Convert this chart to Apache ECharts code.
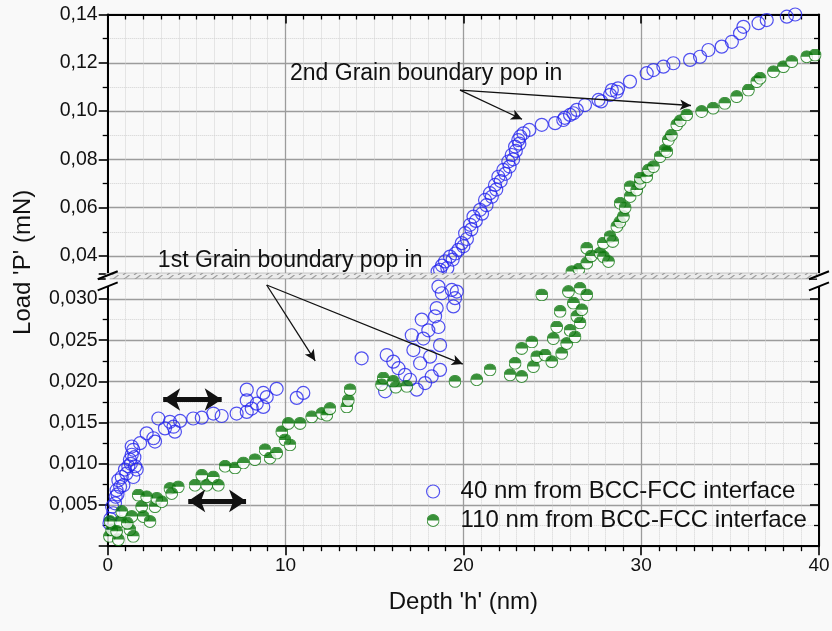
<!DOCTYPE html>
<html><head><meta charset="utf-8">
<script src="https://cdn.jsdelivr.net/npm/echarts@6/dist/echarts.min.js"></script>
<style>html,body{margin:0;padding:0;background:#f9f9f9}#c{width:832px;height:631px}</style>
</head><body><div id="c"></div>
<script>
// ---------- data ----------
const seriesNames = ['40 nm from BCC-FCC interface', '110 nm from BCC-FCC interface'];
const axisTitles = { x: "Depth 'h' (nm)", y: "Load 'P' (mN)" };

// [depth nm, load mN]
const blue40 = [
[0.10,0.0028],[0.15,0.0033],[0.31,0.0040],[0.25,0.0048],[0.41,0.0052],[0.45,0.0060],[0.50,0.0068],[0.55,0.0063],[0.60,0.0080],[0.70,0.0072],
[0.79,0.0084],[0.88,0.0074],[0.97,0.0093],[1.05,0.0088],[1.16,0.0097],[1.25,0.0105],[1.35,0.0111],[1.30,0.0100],[1.44,0.0117],[1.54,0.0097],
[1.63,0.0093],[1.44,0.0084],[1.35,0.0121],[1.50,0.0108],[1.82,0.0125],[2.19,0.0137],[2.57,0.0131],[2.66,0.0127],[2.85,0.0155],[3.22,0.0143],
[3.50,0.0151],[3.78,0.0139],[3.70,0.0145],[4.07,0.0152],[4.81,0.0155],[5.29,0.0156],[5.94,0.0161],[6.41,0.0158],[7.25,0.0161],[7.82,0.0163],
[7.82,0.0190],[7.82,0.0177],[8.10,0.0167],[8.38,0.0173],[8.75,0.0186],[8.75,0.0169],[8.94,0.0181],[9.50,0.0191],[10.63,0.0180],[11.00,0.0186],
[14.28,0.0228],[15.60,0.0188],[15.69,0.0232],[16.06,0.0224],[16.35,0.0216],[16.72,0.0208],[17.00,0.0202],[17.38,0.0190],[17.19,0.0238],[17.10,0.0256],
[17.57,0.0222],[17.85,0.0198],[17.66,0.0275],[17.75,0.0252],[18.03,0.0262],[18.13,0.0230],[18.22,0.0206],[18.41,0.0279],[18.50,0.0289],[18.60,0.0266],
[18.69,0.0244],[18.69,0.0214],[18.60,0.0315],[18.79,0.0307],[19.35,0.0311],[19.53,0.0301],[19.63,0.0309],[19.44,0.0291],
[18.55,0.0335],[18.69,0.0342],[18.97,0.0377],[18.80,0.0360],[19.10,0.0350],[19.25,0.0397],[19.40,0.0385],[19.72,0.0425],[19.55,0.0410],[19.91,0.0453],
[20.00,0.0440],[20.10,0.0494],[20.20,0.0470],[20.38,0.0529],[20.45,0.0510],[20.57,0.0563],[20.70,0.0545],[20.94,0.0591],[21.05,0.0575],[21.22,0.0632],
[21.30,0.0610],[21.50,0.0660],[21.60,0.0645],[21.78,0.0694],[21.85,0.0675],[21.97,0.0728],[22.10,0.0710],[22.25,0.0756],[22.35,0.0740],[22.53,0.0791],
[22.60,0.0770],[22.72,0.0818],[22.80,0.0800],[22.91,0.0853],[22.95,0.0835],[23.09,0.0880],[23.15,0.0865],[23.38,0.0908],[23.20,0.0895],[23.71,0.0922],
[24.41,0.0943],[25.16,0.0950],[25.62,0.0963],[25.70,0.0972],[26.00,0.0984],[26.19,0.0991],[26.38,0.1005],[26.84,0.1025],[27.60,0.1046],[27.75,0.1040],
[28.25,0.1067],[28.35,0.1087],[28.63,0.1080],[28.70,0.1094],[29.37,0.1122],[30.31,0.1157],[30.69,0.1170],[31.25,0.1184],[31.81,0.1198],[32.75,0.1212],
[33.31,0.1225],[33.78,0.1253],[34.53,0.1267],[35.10,0.1287],[35.56,0.1322],[35.75,0.1349],[36.60,0.1364],[37.06,0.1377],[38.19,0.1391],[38.66,0.1400]
];
const green110 = [
[0.10,0.0012],[0.22,0.0020],[0.13,0.0030],[0.60,0.0008],[0.69,0.0030],[0.79,0.0042],[0.50,0.0018],[1.25,0.0020],[1.44,0.0012],[1.35,0.0036],
[1.10,0.0028],[1.72,0.0062],[1.91,0.0048],[2.00,0.0036],[2.19,0.0060],[2.38,0.0030],[2.66,0.0048],[2.76,0.0058],[3.04,0.0054],[3.50,0.0070],
[3.97,0.0072],[3.60,0.0064],[4.91,0.0074],[5.29,0.0086],[5.57,0.0074],[5.94,0.0084],[6.22,0.0074],[6.60,0.0097],[7.16,0.0095],[7.63,0.0101],
[8.28,0.0105],[8.85,0.0117],[9.13,0.0107],[9.50,0.0113],[9.79,0.0139],[9.97,0.0129],[10.25,0.0123],[10.16,0.0149],[10.82,0.0149],[11.47,0.0157],
[12.04,0.0161],[12.32,0.0159],[12.50,0.0167],[13.44,0.0169],[13.53,0.0177],[13.63,0.0190],[15.50,0.0204],[15.40,0.0196],[16.06,0.0200],[16.20,0.0193],
[16.82,0.0194],[19.53,0.0200],[20.75,0.0202],[21.50,0.0214],[22.63,0.0208],[23.28,0.0206],[22.91,0.0222],[23.28,0.0240],[23.85,0.0248],[23.94,0.0218],
[24.13,0.0230],[24.60,0.0232],[24.97,0.0224],[25.06,0.0252],[25.25,0.0266],[25.44,0.0285],[25.53,0.0234],[25.81,0.0246],[26.00,0.0262],[25.91,0.0309],
[26.19,0.0295],[26.38,0.0279],[26.28,0.0254],[26.56,0.0313],[26.94,0.0305],[26.66,0.0287],[26.56,0.0271],[24.41,0.0305],
[26.10,0.0335],[26.50,0.0345],[26.94,0.0370],[26.94,0.0432],[27.20,0.0400],[27.69,0.0411],[27.88,0.0397],[28.16,0.0377],[27.88,0.0453],[28.25,0.0480],
[28.40,0.0460],[28.63,0.0522],[28.82,0.0618],[28.80,0.0540],[29.00,0.0563],[29.10,0.0600],[29.38,0.0646],[29.38,0.0687],[29.75,0.0673],[29.94,0.0701],
[29.94,0.0722],[30.31,0.0728],[30.41,0.0756],[30.69,0.0770],[31.06,0.0811],[31.34,0.0839],[31.44,0.0832],[31.53,0.0880],[31.70,0.0900],[32.00,0.0943],
[32.20,0.0960],[32.56,0.0984],[33.40,0.0998],[34.05,0.1012],[34.70,0.1032],[35.37,0.1060],[36.03,0.1087],[36.50,0.1122],[36.69,0.1136],[37.44,0.1163],
[38.00,0.1184],[38.47,0.1205],[39.31,0.1225],[39.78,0.1232]
];

// axis ranges (broken y axis: lower panel 0..0.0325, upper panel 0.0328..0.14)
const xRange = [0, 40, 10];
const upperRange = [0.0328, 0.14, 0.02];
const lowerRange = [0, 0.0325, 0.005];
const splitValue = 0.0327;

// annotations (data coordinates)
const notes = [
  { text: '2nd Grain boundary pop in', at: [10.25, 0.1157] },
  { text: '1st Grain boundary pop in', at: [2.82, 0.0379] }
];
const arrows2nd = [[[19.81, 0.1087], [23.3, 0.0966]], [[19.81, 0.1087], [32.8, 0.1023]]];
const arrows1st = [[[8.94, 0.0317], [11.67, 0.0225]], [[8.94, 0.0317], [19.97, 0.0221]]];
const doubleArrows = [[[3.12, 0.0178], [6.41, 0.0178]], [[4.53, 0.0055], [7.78, 0.0055]]];

// ---------- chart ----------
const FONT = '"Liberation Sans", Arial, Helvetica, sans-serif';
const BLUE = '#2626ee';
const greenSvg = "<svg xmlns='http://www.w3.org/2000/svg' width='40' height='40' viewBox='0 0 40 40'>" +
  "<circle cx='20' cy='20' r='18.3' fill='#ffffff'/>" +
  "<path d='M1.7 20 A18.3 18.3 0 0 1 38.3 20 Z' fill='#087608'/>" +
  "<circle cx='20' cy='20' r='18.3' fill='none' stroke='#167c16' stroke-width='3.2'/></svg>";
const greenSymbol = 'image://data:image/svg+xml;charset=utf-8,' + encodeURIComponent(greenSvg);

const upperBlue = blue40.filter(p => p[1] >= splitValue);
const lowerBlue = blue40.filter(p => p[1] < splitValue);
const upperGreen = green110.filter(p => p[1] >= splitValue);
const lowerGreen = green110.filter(p => p[1] < splitValue);

function isMult(v, step) { const k = v / step; return Math.abs(k - Math.round(k)) < 1e-6; }

function xAxisDef(grid, pos, withLabels) {
  return {
    type: 'value', gridIndex: grid, position: pos, min: xRange[0], max: xRange[1], interval: xRange[2],
    axisLine: { show: true, onZero: false, lineStyle: { color: '#000', width: 2 } },
    axisTick: { show: true, inside: pos === 'top', length: 9, lineStyle: { color: '#000', width: 1.6 } },
    minorTick: { show: true, splitNumber: 10, length: 5, lineStyle: { color: '#000', width: 1.3 } },
    axisLabel: { show: withLabels, margin: 10, fontSize: 19, color: '#111', fontFamily: FONT },
    splitLine: { show: true, lineStyle: { color: '#9c9c9c', width: 1.3 } },
    minorSplitLine: { show: true, lineStyle: { color: '#d2d2d2', type: 'dotted', width: 1 } }
  };
}
function yAxisDef(grid, pos, range, digits, isLower) {
  const left = pos === 'left';
  const ax = {
    type: 'value', gridIndex: grid, position: pos, min: range[0], max: range[1],
    axisLine: { show: true, onZero: false, lineStyle: { color: '#000', width: 2 } },
    axisTick: { show: true, inside: !left, length: 9, lineStyle: { color: '#000', width: 1.6 } },
    minorTick: { show: true, splitNumber: 2, length: 5, lineStyle: { color: '#000', width: 1.3 } },
    axisLabel: {
      show: left, margin: 10, fontSize: 19.5, color: '#111', fontFamily: FONT,
      showMinLabel: false, showMaxLabel: !isLower,
      formatter: v => (v > 1e-9 && isMult(v, range[2])) ? v.toFixed(digits).replace('.', ',') : ''
    },
    splitLine: { show: left, lineStyle: { color: '#9c9c9c', width: 1.3 } },
    minorSplitLine: { show: left, lineStyle: { color: '#d2d2d2', type: 'dotted', width: 1 } }
  };
  if (isLower) { ax.interval = range[2]; }
  else { ax.minInterval = range[2]; ax.maxInterval = range[2]; ax.splitNumber = 5; }
  return ax;
}

const arrowLine = (pairs) => pairs.map(p => [{ coord: p[0] }, { coord: p[1] }]);
const thinArrow = (pairs) => ({
  silent: true, symbol: ['none', 'arrow'], symbolSize: [8, 11], animation: false,
  lineStyle: { color: '#111', width: 1.3, type: 'solid' }, itemStyle: { color: '#111' },
  label: { show: false }, data: arrowLine(pairs)
});

const option = {
  backgroundColor: '#f9f9f9',
  animation: false,
  grid: [
    { left: 107.7, right: 13, top: 14.5, height: 258.8, outerBoundsMode: 'none', containLabel: false },
    { left: 107.7, right: 13, top: 278.4, height: 267.8, outerBoundsMode: 'none', containLabel: false }
  ],
  xAxis: [
    xAxisDef(0, 'top', false),
    Object.assign(xAxisDef(1, 'bottom', true), {
      name: axisTitles.x, nameLocation: 'middle', nameGap: 44,
      nameTextStyle: { fontSize: 24, color: '#111', fontFamily: FONT }
    })
  ],
  yAxis: [
    yAxisDef(0, 'left', upperRange, 2, false),
    yAxisDef(0, 'right', upperRange, 2, false),
    yAxisDef(1, 'left', lowerRange, 3, true),
    yAxisDef(1, 'right', lowerRange, 3, true)
  ],
  legend: {
    orient: 'vertical', left: 421, top: 474, itemWidth: 13, itemHeight: 13, itemGap: 4,
    selectedMode: false,
    textStyle: { fontSize: 24, color: '#111', fontFamily: FONT, lineHeight: 25, padding: [0, 0, 0, 16] },
    data: [
      { name: seriesNames[0], icon: 'circle', itemStyle: { color: 'rgba(255,255,255,0)', borderColor: BLUE, borderWidth: 1.2 } },
      { name: seriesNames[1], icon: greenSymbol }
    ]
  },
  series: [
    {
      type: 'scatter', name: seriesNames[0], xAxisIndex: 0, yAxisIndex: 0, data: upperBlue,
      symbol: 'circle', symbolSize: 13,
      itemStyle: { color: 'rgba(255,255,255,0)', borderColor: BLUE, borderWidth: 1.2 }
    },
    {
      type: 'scatter', name: seriesNames[0], xAxisIndex: 1, yAxisIndex: 2, data: lowerBlue,
      symbol: 'circle', symbolSize: 13,
      itemStyle: { color: 'rgba(255,255,255,0)', borderColor: BLUE, borderWidth: 1.2 }
    },
    {
      type: 'scatter', name: seriesNames[1], xAxisIndex: 0, yAxisIndex: 0, data: upperGreen,
      symbol: greenSymbol, symbolSize: 13
    },
    {
      type: 'scatter', name: seriesNames[1], xAxisIndex: 1, yAxisIndex: 2, data: lowerGreen,
      symbol: greenSymbol, symbolSize: 13
    },
    {
      type: 'scatter', name: 'arrowsUpper', xAxisIndex: 0, yAxisIndex: 0, data: [], z: 5,
      markLine: thinArrow(arrows2nd)
    },
    {
      type: 'scatter', name: 'arrowsLower', xAxisIndex: 1, yAxisIndex: 2, data: [], z: 5,
      markLine: thinArrow(arrows1st)
    },
    {
      type: 'scatter', name: 'arrowsDouble', xAxisIndex: 1, yAxisIndex: 2, data: [], z: 5,
      markLine: {
        silent: true, symbol: ['arrow', 'arrow'], symbolSize: [17, 17], animation: false,
        lineStyle: { color: '#111', width: 5, type: 'solid' }, itemStyle: { color: '#111' },
        label: { show: false }, data: arrowLine(doubleArrows)
      }
    }
  ]
};

const chart = echarts.init(document.getElementById('c'), null, { renderer: 'canvas' });
chart.setOption(option);

// decorations derived from axes
const xL = chart.convertToPixel({ xAxisIndex: 0 }, xRange[0]);
const xR = chart.convertToPixel({ xAxisIndex: 0 }, xRange[1]);
const yUpBottom = chart.convertToPixel({ yAxisIndex: 0 }, upperRange[0]);
const yLowTop = chart.convertToPixel({ yAxisIndex: 2 }, lowerRange[1]);
const yTop = chart.convertToPixel({ yAxisIndex: 0 }, upperRange[1]);
const yBot = chart.convertToPixel({ yAxisIndex: 2 }, lowerRange[0]);

const pc = document.createElement('canvas');
pc.width = 11; pc.height = Math.max(2, Math.round(yLowTop - yUpBottom));
const g = pc.getContext('2d');
g.fillStyle = '#ebebeb'; g.fillRect(0, 0, pc.width, pc.height);
g.strokeStyle = '#9e9e9e'; g.lineWidth = 1.2;
g.beginPath(); g.moveTo(2, pc.height); g.lineTo(2 + pc.height * 1.3, 0); g.stroke();

const graphics = [
  { type: 'rect', id: 'band', z: 100, silent: true,
    shape: { x: xL, y: yUpBottom, width: xR - xL, height: yLowTop - yUpBottom },
    style: { fill: { image: pc, repeat: 'repeat' } } }
];
[xL, xR].forEach((xx, i) => {
  graphics.push({ type: 'rect', id: 'gap' + i, z: 101, silent: true,
    shape: { x: xx - 2, y: yUpBottom, width: 4, height: yLowTop - yUpBottom + 8 },
    style: { fill: '#f9f9f9' } });
  [yUpBottom + 2, yLowTop + 8].forEach((yy, j) => {
    graphics.push({ type: 'line', id: 'brk' + i + j, z: 102, silent: true,
      shape: { x1: xx - 10, y1: yy + 4, x2: xx + 10, y2: yy - 4 },
      style: { stroke: '#000', lineWidth: 2 } });
  });
});
notes.forEach((n, i) => {
  const p = chart.convertToPixel({ xAxisIndex: 0, yAxisIndex: 0 }, n.at);
  graphics.push({ type: 'text', id: 'note' + i, z: 110, silent: true, x: p[0], y: p[1],
    style: { text: n.text, fontSize: 23, fontFamily: FONT, fill: '#111', align: 'left', verticalAlign: 'middle' } });
});
graphics.push({ type: 'text', id: 'ytitle', z: 110, silent: true, x: 23, y: (yTop + yBot) / 2 - 18,
  rotation: Math.PI / 2,
  style: { text: axisTitles.y, fontSize: 24, fontFamily: FONT, fill: '#111', align: 'center', verticalAlign: 'middle' } });

chart.setOption({ graphic: graphics });
</script>
</body></html>
